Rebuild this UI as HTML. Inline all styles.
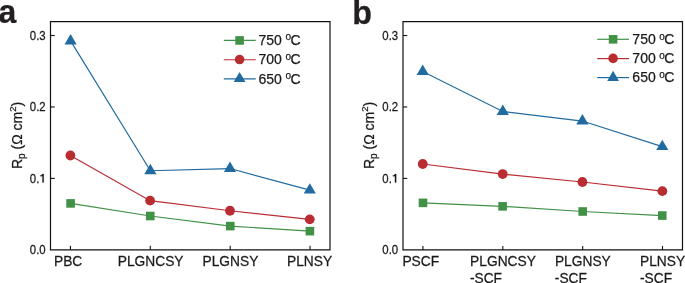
<!DOCTYPE html>
<html><head><meta charset="utf-8"><style>
html,body{margin:0;padding:0;background:#fff;}
svg{display:block;font-family:"Liberation Sans",sans-serif;will-change:transform;}
text{stroke:#1a1a1a;stroke-width:0.25px;}
</style></head><body>
<svg width="685" height="283" viewBox="0 0 685 283">
<polyline points="70.60,40.93 150.35,170.73 230.00,168.53 309.80,190.13" fill="none" stroke="#216ba0" stroke-width="1.2"/>
<polyline points="70.40,155.50 150.10,200.65 230.00,210.75 309.75,219.35" fill="none" stroke="#b92d32" stroke-width="1.2"/>
<polyline points="70.60,203.40 150.25,216.00 230.25,226.10 309.90,231.15" fill="none" stroke="#419146" stroke-width="1.2"/>
<rect x="66.30" y="199.10" width="8.6" height="8.6" fill="#419146"/>
<rect x="145.95" y="211.70" width="8.6" height="8.6" fill="#419146"/>
<rect x="225.95" y="221.80" width="8.6" height="8.6" fill="#419146"/>
<rect x="305.60" y="226.85" width="8.6" height="8.6" fill="#419146"/>
<circle cx="70.40" cy="155.50" r="4.9" fill="#b92d32"/>
<circle cx="150.10" cy="200.65" r="4.9" fill="#b92d32"/>
<circle cx="230.00" cy="210.75" r="4.9" fill="#b92d32"/>
<circle cx="309.75" cy="219.35" r="4.9" fill="#b92d32"/>
<path d="M70.60,34.00 L76.70,44.40 L64.50,44.40 Z" fill="#216ba0"/>
<path d="M150.35,163.80 L156.45,174.20 L144.25,174.20 Z" fill="#216ba0"/>
<path d="M230.00,161.60 L236.10,172.00 L223.90,172.00 Z" fill="#216ba0"/>
<path d="M309.80,183.20 L315.90,193.60 L303.70,193.60 Z" fill="#216ba0"/>
<path d="M50.5,21.6 H330.0 V249.8 H50.5 Z" fill="none" stroke="#111" stroke-width="1.2"/>
<text transform="translate(45.70,254.15) scale(0.95,1)" font-size="12" text-anchor="end" fill="#1a1a1a">0.0</text>
<path d="M50.5,178.40 H54.7" stroke="#111" stroke-width="1.1"/>
<text transform="translate(39.36,182.70) scale(0.95,1)" font-size="12" text-anchor="end" fill="#1a1a1a">0.</text>
<path d="M42.40,174.00 L43.75,174.00 L43.75,182.60 L42.40,182.60 L42.40,176.30 L40.30,176.30 L40.30,175.50 L41.30,175.20 L42.00,174.50 Z" fill="#1a1a1a" stroke="#1a1a1a" stroke-width="0.2"/>
<path d="M50.5,106.95 H54.7" stroke="#111" stroke-width="1.1"/>
<text transform="translate(45.70,111.25) scale(0.95,1)" font-size="12" text-anchor="end" fill="#1a1a1a">0.2</text>
<path d="M50.5,35.50 H54.7" stroke="#111" stroke-width="1.1"/>
<text transform="translate(45.70,39.80) scale(0.95,1)" font-size="12" text-anchor="end" fill="#1a1a1a">0.3</text>
<path d="M70.45,249.8 V245.8" stroke="#111" stroke-width="1.1"/>
<path d="M150.3,249.8 V245.8" stroke="#111" stroke-width="1.1"/>
<path d="M230.2,249.8 V245.8" stroke="#111" stroke-width="1.1"/>
<path d="M310.05,249.8 V245.8" stroke="#111" stroke-width="1.1"/>
<polyline points="422.70,71.43 502.80,111.43 582.40,121.03 662.30,146.63" fill="none" stroke="#216ba0" stroke-width="1.2"/>
<polyline points="422.75,164.00 502.70,174.05 582.40,182.00 662.35,191.15" fill="none" stroke="#b92d32" stroke-width="1.2"/>
<polyline points="423.00,202.85 502.60,206.35 582.70,211.50 662.25,215.55" fill="none" stroke="#419146" stroke-width="1.2"/>
<rect x="418.70" y="198.55" width="8.6" height="8.6" fill="#419146"/>
<rect x="498.30" y="202.05" width="8.6" height="8.6" fill="#419146"/>
<rect x="578.40" y="207.20" width="8.6" height="8.6" fill="#419146"/>
<rect x="657.95" y="211.25" width="8.6" height="8.6" fill="#419146"/>
<circle cx="422.75" cy="164.00" r="4.9" fill="#b92d32"/>
<circle cx="502.70" cy="174.05" r="4.9" fill="#b92d32"/>
<circle cx="582.40" cy="182.00" r="4.9" fill="#b92d32"/>
<circle cx="662.35" cy="191.15" r="4.9" fill="#b92d32"/>
<path d="M422.70,64.50 L428.80,74.90 L416.60,74.90 Z" fill="#216ba0"/>
<path d="M502.80,104.50 L508.90,114.90 L496.70,114.90 Z" fill="#216ba0"/>
<path d="M582.40,114.10 L588.50,124.50 L576.30,124.50 Z" fill="#216ba0"/>
<path d="M662.30,139.70 L668.40,150.10 L656.20,150.10 Z" fill="#216ba0"/>
<path d="M403.0,21.6 H682.5 V249.9 H403.0 Z" fill="none" stroke="#111" stroke-width="1.2"/>
<text transform="translate(398.20,254.15) scale(0.95,1)" font-size="12" text-anchor="end" fill="#1a1a1a">0.0</text>
<path d="M403.0,178.40 H407.2" stroke="#111" stroke-width="1.1"/>
<text transform="translate(391.86,182.70) scale(0.95,1)" font-size="12" text-anchor="end" fill="#1a1a1a">0.</text>
<path d="M394.90,174.00 L396.25,174.00 L396.25,182.60 L394.90,182.60 L394.90,176.30 L392.80,176.30 L392.80,175.50 L393.80,175.20 L394.50,174.50 Z" fill="#1a1a1a" stroke="#1a1a1a" stroke-width="0.2"/>
<path d="M403.0,106.95 H407.2" stroke="#111" stroke-width="1.1"/>
<text transform="translate(398.20,111.25) scale(0.95,1)" font-size="12" text-anchor="end" fill="#1a1a1a">0.2</text>
<path d="M403.0,35.50 H407.2" stroke="#111" stroke-width="1.1"/>
<text transform="translate(398.20,39.80) scale(0.95,1)" font-size="12" text-anchor="end" fill="#1a1a1a">0.3</text>
<path d="M422.9,249.9 V245.9" stroke="#111" stroke-width="1.1"/>
<path d="M502.8,249.9 V245.9" stroke="#111" stroke-width="1.1"/>
<path d="M582.7,249.9 V245.9" stroke="#111" stroke-width="1.1"/>
<path d="M662.5,249.9 V245.9" stroke="#111" stroke-width="1.1"/>
<text transform="translate(54.00,265.50) scale(0.985,1)" font-size="14" fill="#1a1a1a">PBC</text>
<text transform="translate(150.60,265.50) scale(0.985,1)" font-size="14" text-anchor="middle" fill="#1a1a1a">PLGNCSY</text>
<text transform="translate(230.40,265.50) scale(0.985,1)" font-size="14" text-anchor="middle" fill="#1a1a1a">PLGNSY</text>
<text transform="translate(309.60,265.50) scale(0.985,1)" font-size="14" text-anchor="middle" fill="#1a1a1a">PLNSY</text>
<text transform="translate(402.40,265.50) scale(0.985,1)" font-size="14" fill="#1a1a1a">PSCF</text>
<text transform="translate(470.10,265.50) scale(0.985,1)" font-size="14" fill="#1a1a1a">PLGNCSY</text>
<text transform="translate(469.90,282.60) scale(0.985,1)" font-size="14" fill="#1a1a1a">-SCF</text>
<text transform="translate(554.90,265.50) scale(0.985,1)" font-size="14" fill="#1a1a1a">PLGNSY</text>
<text transform="translate(554.80,282.60) scale(0.985,1)" font-size="14" fill="#1a1a1a">-SCF</text>
<text transform="translate(640.00,265.50) scale(0.985,1)" font-size="14" fill="#1a1a1a">PLNSY</text>
<text transform="translate(640.00,282.60) scale(0.985,1)" font-size="14" fill="#1a1a1a">-SCF</text>
<text transform="translate(-1.5,23.2) scale(0.94,1)" font-size="34" font-weight="bold" fill="#231f20">a</text>
<text transform="translate(352.2,23.6) scale(0.95,1)" font-size="34" font-weight="bold" fill="#231f20">b</text>
<text transform="translate(21.6,169.1) rotate(-90)" font-size="14" fill="#1a1a1a">R<tspan font-size="10" dy="3">p</tspan><tspan dy="-3"> (Ω cm</tspan><tspan font-size="9.6" dy="-5.8">2</tspan><tspan dy="5.8">)</tspan></text>
<text transform="translate(373.6,169.0) rotate(-90)" font-size="14" fill="#1a1a1a">R<tspan font-size="10" dy="3">p</tspan><tspan dy="-3"> (Ω cm</tspan><tspan font-size="9.6" dy="-5.8">2</tspan><tspan dy="5.8">)</tspan></text>
<path d="M223.8,40.45 H255.7" stroke="#419146" stroke-width="1.2"/>
<rect x="235.29999999999998" y="36.150000000000006" width="8.6" height="8.6" fill="#419146"/>
<text x="258.5" y="45.0" font-size="14" fill="#1a1a1a">750 <tspan font-size="10" dx="-0.3" dy="-4.6">o</tspan><tspan dx="-0.5" dy="4.6">C</tspan></text>
<path d="M223.8,59.75 H255.7" stroke="#b92d32" stroke-width="1.2"/>
<circle cx="239.6" cy="59.55" r="4.8" fill="#b92d32"/>
<text x="258.5" y="64.4" font-size="14" fill="#1a1a1a">700 <tspan font-size="10" dx="-0.3" dy="-4.6">o</tspan><tspan dx="-0.5" dy="4.6">C</tspan></text>
<path d="M223.8,78.8 H255.7" stroke="#216ba0" stroke-width="1.2"/>
<path d="M239.6,71.89999999999999 L245.5,82.1 L233.7,82.1 Z" fill="#216ba0"/>
<text x="258.5" y="83.6" font-size="14" fill="#1a1a1a">650 <tspan font-size="10" dx="-0.3" dy="-4.6">o</tspan><tspan dx="-0.5" dy="4.6">C</tspan></text>
<path d="M597.2,39.3 H629.0" stroke="#419146" stroke-width="1.2"/>
<rect x="608.8000000000001" y="35.0" width="8.6" height="8.6" fill="#419146"/>
<text x="632.35" y="44.2" font-size="14" fill="#1a1a1a">750 <tspan font-size="10" dx="-0.3" dy="-4.6">o</tspan><tspan dx="-0.5" dy="4.6">C</tspan></text>
<path d="M597.2,58.6 H629.0" stroke="#b92d32" stroke-width="1.2"/>
<circle cx="613.1" cy="58.4" r="4.8" fill="#b92d32"/>
<text x="632.35" y="63.1" font-size="14" fill="#1a1a1a">700 <tspan font-size="10" dx="-0.3" dy="-4.6">o</tspan><tspan dx="-0.5" dy="4.6">C</tspan></text>
<path d="M597.2,77.6 H629.0" stroke="#216ba0" stroke-width="1.2"/>
<path d="M613.1,70.69999999999999 L619.0,80.89999999999999 L607.2,80.89999999999999 Z" fill="#216ba0"/>
<text x="632.35" y="82.1" font-size="14" fill="#1a1a1a">650 <tspan font-size="10" dx="-0.3" dy="-4.6">o</tspan><tspan dx="-0.5" dy="4.6">C</tspan></text>
</svg></body></html>
